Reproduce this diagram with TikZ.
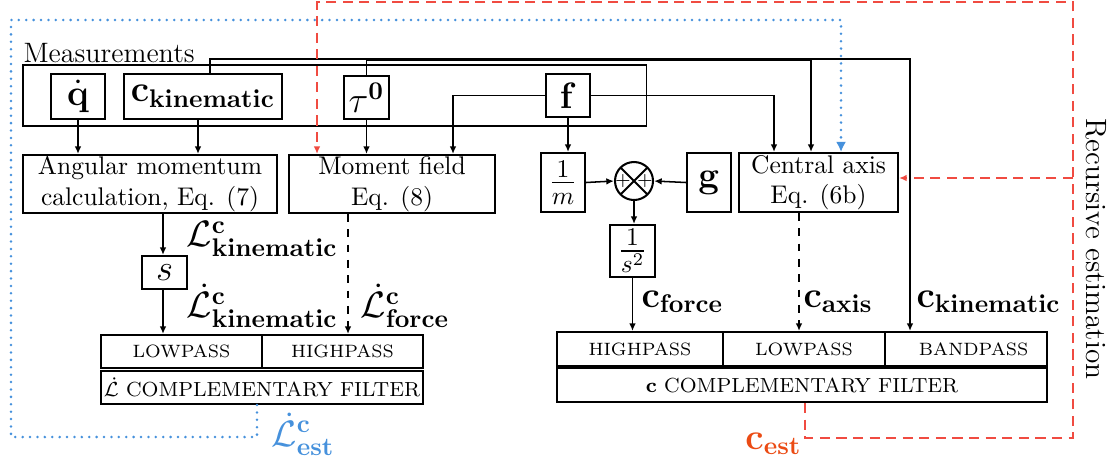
\documentclass[tikz,border=0pt]{standalone}
\usepackage{amsmath}
\usetikzlibrary{arrows.meta}
\definecolor{estblue}{RGB}{70,145,220}
\definecolor{recred}{RGB}{240,75,65}
\definecolor{estred}{RGB}{235,75,20}
\begin{document}
\begin{tikzpicture}[x=0.392pt,y=-0.392pt,
    box/.style={draw,thick,inner sep=0pt,align=center},
    sz/.style 2 args={minimum width=#1*0.392pt,minimum height=#2*0.392pt},
    cell/.style={draw,thick,inner sep=0pt,font=\scriptsize},
    lbl/.style={inner sep=0pt,font=\Large},
    arr/.style={-{Latex[length=3pt,width=2.6pt]},semithick},
    dasharr/.style={arr,dashed},
    bluedot/.style={estblue,line width=1.1pt,line cap=round,dash pattern=on 0pt off 2.9pt,
      -{Latex[length=4pt,width=4pt]}},
    reddash/.style={recred,semithick,dash pattern=on 4pt off 2.5pt,
      -{Latex[length=3pt,width=2.6pt]}}]
  \useasboundingbox (0,0) rectangle (1114,464);
  % measurements
  \draw[thin] (23,65) rectangle (646,126);
  \node[anchor=base west,inner sep=0pt,font=\fontsize{11}{13}\selectfont] (meas) at (23,62) {Measurements};
  \node[box,sz={54}{45},font=\Large] (qd) at (78,96.5) {$\dot{\mathbf{q}}$};
  \node[box,sz={158}{45},font=\Large] (ckin) at (203,96.5) {$\mathbf{c}_{\mathbf{kinematic}}$};
  \node[box,sz={45}{43},font=\Large] (tau) at (366.5,97.5) {$\tau^{\mathbf{0}}$};
  \node[box,sz={44}{43},font=\Large] (f) at (568,95.5) {$\mathbf{f}$};
  % blocks
  \node[box,sz={254}{58}] (ang) at (150,184) {Angular momentum\\calculation, Eq. (7)};
  \node[box,sz={206}{58}] (mom) at (392,184) {Moment field\\Eq. (8)};
  \node[box,sz={44}{59},font=\Large] (invm) at (563,182.5) {$\frac{1}{m}$};
  \node[draw,thick,circle,minimum size=38*0.392pt,inner sep=0pt,
    path picture={\draw[thick] (path picture bounding box.north west) -- (path picture bounding box.south east)
      (path picture bounding box.north east) -- (path picture bounding box.south west);}] (sum) at (634,181) {};
  \node[inner sep=0pt,font=\scriptsize] (pl) at (623,181) {$+$};
  \node[inner sep=0pt,font=\scriptsize] (pr) at (645,181) {$+$};
  \node[box,sz={44}{59},font=\Large] (g) at (709,182.5) {$\mathbf{g}$};
  \node[box,sz={159}{59}] (cax) at (818.5,182.5) {Central axis\\Eq. (6b)};
  \node[box,sz={45}{33},font=\Large] (s) at (164.5,272.5) {$s$};
  \node[box,sz={45}{52},font=\Large] (invs) at (632.5,251) {$\frac{1}{s^2}$};
  % L dot complementary filter
  \node[cell,sz={161}{33}] (lo) at (181.5,351.5) {LOWPASS};
  \node[cell,sz={161}{33}] (hi) at (342.5,351.5) {HIGHPASS};
  \node[cell,sz={322}{33},font=\footnotesize] (lcomp) at (262,387.5) {$\dot{\mathcal{L}}$ COMPLEMENTARY FILTER};
  % c complementary filter
  \node[cell,sz={166}{34}] (hp) at (640,349) {HIGHPASS};
  \node[cell,sz={162}{34}] (lp) at (804,349) {LOWPASS};
  \node[cell,sz={162}{34}] (bp) at (966,349) {\hspace*{6pt}BANDPASS};
  \node[cell,sz={490}{34},font=\footnotesize] (ccomp) at (802,385) {$\mathbf{c}$ COMPLEMENTARY FILTER};
  % signal labels
  \node[lbl,anchor=west] (llk) at (186,239) {$\mathcal{L}^{\mathbf{c}}_{\mathbf{kinematic}}$};
  \node[lbl,anchor=west] (ldk) at (186,306) {$\dot{\mathcal{L}}^{\mathbf{c}}_{\mathbf{kinematic}}$};
  \node[lbl,anchor=west] (ldf) at (360,306) {$\dot{\mathcal{L}}^{\mathbf{c}}_{\mathbf{force}}$};
  \node[lbl,anchor=west] (lcf) at (641,302) {$\mathbf{c}_{\mathbf{force}}$};
  \node[lbl,anchor=west] (lca) at (803,302) {$\mathbf{c}_{\mathbf{axis}}$};
  \node[lbl,anchor=west] (lck) at (916,302) {$\mathbf{c}_{\mathbf{kinematic}}$};
  \node[lbl,anchor=west,text=estblue] (lest) at (271,434) {$\dot{\mathcal{L}}^{\mathbf{c}}_{\mathbf{est}}$};
  \node[lbl,anchor=east,text=estred] (cest) at (802,444) {$\mathbf{c}_{\mathbf{est}}$};
  \node[rotate=-90,inner sep=0pt,font=\fontsize{11.5}{14}\selectfont] (rec) at (1096,249) {Recursive estimation};
  % connectors
  \draw[arr] (qd.south) -- (qd.south |- ang.north);
  \draw[arr] (198,0 |- ckin.south) -- (198,0 |- ang.north);
  \draw[arr] (210,0 |- ckin.north) |- (910,59) -- (910,0 |- bp.north);
  \draw[arr] (tau.north) |- (811,60.5) -- (811,0 |- cax.north);
  \draw[arr] (tau.south) -- (tau.south |- mom.north);
  \draw[arr] (f.west) -| (453,0 |- mom.north);
  \draw[arr] (f.east) -| (774,0 |- cax.north);
  \draw[arr] (f.south) -- (f.south |- invm.north);
  \draw[arr] (invm.east) -- (sum.west);
  \draw[arr] (g.west) -- (sum.east);
  \draw[arr] (sum.south) -- (sum.south |- invs.north);
  \draw[arr] (invs.south) -- (invs.south |- hp.north);
  \draw[dasharr] (799,0 |- cax.south) -- (799,0 |- lp.north);
  \draw[arr] (163,0 |- ang.south) -- (163,0 |- s.north);
  \draw[arr] (163,0 |- s.south) -- (163,0 |- lo.north);
  \draw[dasharr] (348,0 |- mom.south) -- (348,0 |- hi.north);
  % estimates fed back
  \draw[bluedot] (257,0 |- lcomp.south) -- (257,437) -- (11,437) -- (11,20) -- (841,20) -- (841,0 |- cax.north);
  \draw[reddash] (805,0 |- ccomp.south) -- (805,438) -- (1073,438) -- (1073,2) -- (317,2) -- (317,0 |- mom.north);
  \draw[reddash] (1073,178) -- (cax.east |- 0,178);
\end{tikzpicture}
\end{document}
